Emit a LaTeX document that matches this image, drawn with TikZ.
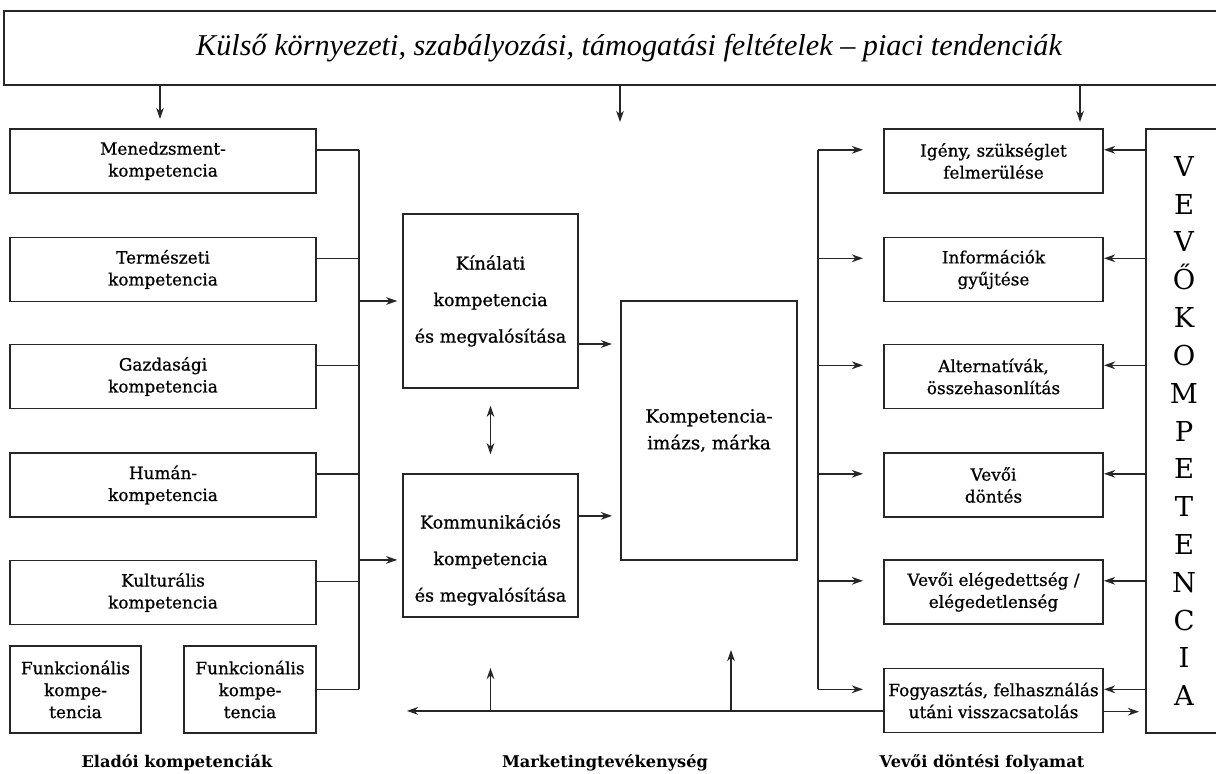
\documentclass[tikz,border=0pt]{standalone}
\usepackage{fontspec}
\setmainfont{DejaVu Serif}
\newfontfamily\boxfont{DejaVu Serif}[FakeBold=0.8]
\newfontfamily\titlefont{Liberation Serif}
\usetikzlibrary{arrows.meta}

\tikzset{
  box/.style={draw=black!85, line width=1.3pt, align=center, inner sep=2pt,
    font=\fontsize{12}{15.6}\selectfont\boxfont},
  lbl/.style={font=\fontsize{11.5}{13}\selectfont\bfseries},
  conn/.style={draw=black!85, line width=1.1pt}
}

\begin{document}
\begin{tikzpicture}[x=0.025cm, y=-0.025cm, >={Stealth[length=8pt,width=5.5pt]}]

        \useasboundingbox (0,0) rectangle (1216,774);
        \clip (0,0) rectangle (1216,774);

        \node[box, minimum width=31.25cm, minimum height=1.85cm,
          font=\fontsize{21.5}{24}\selectfont\titlefont\itshape] (top) at (629,48)
          {Külső környezeti, szabályozási, támogatási feltételek – piaci tendenciák};

        \begin{scope}[every node/.style={box, minimum width=7.65cm, minimum height=1.6cm}]
          \node (men) at (163,161)   {Menedzsment-\\kompetencia};
          \node (ter) at (163,269.5) {Természeti\\kompetencia};
          \node (gaz) at (163,376.5) {Gazdasági\\kompetencia};
          \node (hum) at (163,485)   {Humán-\\kompetencia};
          \node (kul) at (163,592.5) {Kulturális\\kompetencia};
        \end{scope}

        \begin{scope}[every node/.style={box, minimum height=2.175cm}]
          \node[minimum width=3.275cm] (fun1) at (75.5,689.5) {Funkcionális\\kompe-\\tencia};
          \node[minimum width=3.3cm]   (fun2) at (250,689.5)  {Funkcionális\\kompe-\\tencia};
        \end{scope}

        \begin{scope}[every node/.style={box, minimum width=4.375cm, font=\fontsize{12.5}{26}\selectfont\boxfont}]
          \node[minimum height=4.35cm]  (kin) at (490.5,301)   {Kínálati\\kompetencia\\és megvalósítása};
          \node[minimum height=3.575cm] (kom) at (490.5,545.5) {};
          \node[draw=none] (komt) at (490.5,560) {Kommunikációs\\kompetencia\\és megvalósítása};
        \end{scope}
        \node[box, minimum width=4.4cm, minimum height=6.475cm,
          font=\fontsize{13}{19}\selectfont\boxfont] (komp) at (709,430.5) {Kompetencia-\\imázs, márka};

        \begin{scope}[every node/.style={box, minimum width=5.475cm, minimum height=1.6cm}]
          \node (ig)  at (993.5,161)   {Igény, szükséglet\\felmerülése};
          \node (inf) at (993.5,269.5) {Információk\\gyűjtése};
          \node (alt) at (993.5,376.5) {Alternatívák,\\összehasonlítás};
          \node (don) at (993.5,485)   {Vevői\\döntés};
          \node (ele) at (993.5,592)   {Vevői elégedettség /\\elégedetlenség};
          \node (fog) at (993.5,700.5) {Fogyasztás, felhasználás\\utáni visszacsatolás};
        \end{scope}

        \node[box, minimum width=1.9cm, minimum height=15.1cm,
          font=\fontsize{19.5}{26.9}\selectfont] (vevo) at (1184,431)
          {V\\E\\V\\Ő\\K\\O\\M\\P\\E\\T\\E\\N\\C\\I\\A};

        \node[lbl] (lab1) at (177,763) {Eladói kompetenciák};
        \node[lbl] (lab2) at (605,763) {Marketingtevékenység};
        \node[lbl] (lab3) at (982,763) {Vevői döntési folyamat};

        \coordinate (t1) at (160,119);
        \coordinate (t2) at (620,122);
        \coordinate (t3) at (1080,122);
        \foreach \t in {t1,t2,t3}
          \draw[conn,->] (\t |- top.south) -- (\t);

        \coordinate (lb1) at (359,150);
        \coordinate (lb2) at (359,689);
        \draw[conn] (lb1) -- (lb2);
        \foreach \n in {men,ter,gaz,hum,kul}{
          \coordinate (\n p) at ([yshift=0.28cm]\n.east);
          \draw[conn] (\n p) -- (\n p -| lb1);
        }
        \draw[conn] (fun2.east) -- (fun2.east -| lb1);
        \draw[conn,->,shorten >=0.12cm] (kin.west -| lb1) -- (kin.west);
        \coordinate (komi) at ([yshift=-0.36cm]kom.west);
        \draw[conn,->,shorten >=0.12cm] (komi -| lb1) -- (komi);

        \coordinate (kino) at ([yshift=-1.075cm]kin.east);
        \coordinate (komo) at ([yshift=0.74cm]kom.east);
        \draw[conn,->,shorten >=0.2cm] (kino) -- (kino -| komp.west);
        \draw[conn,->,shorten >=0.2cm] (komo) -- (komo -| komp.west);
        \draw[conn,<->,shorten <=0.42cm,shorten >=0.47cm] (kin.south) -- (kom.north);

        \coordinate (rb1) at (818,150);
        \coordinate (rb2) at (818,689);
        \draw[conn] (rb1) -- (rb2);
        \foreach \n in {ig,inf,alt,don,ele,fog}{
          \coordinate (\n w) at ([yshift=0.28cm]\n.west);
          \coordinate (\n e) at ([yshift=0.28cm]\n.east);
          \draw[conn,->,shorten >=0.5cm] (\n w -| rb1) -- (\n w);
          \draw[conn,->] (\n e -| vevo.west) -- (\n e);
        }

        \coordinate (fo) at ([yshift=-0.28cm]fog.east);
        \draw[conn,->,shorten >=0.15cm] (fo) -- (fo -| vevo.west);
        \coordinate (fb) at ([yshift=-0.26cm]fog.west);
        \draw[conn,->,shorten >=0.12cm] (fb) -- (fb -| kin.west);
        \draw[conn,->] (fb -| kin.south) -- ++(0,-43);
        \coordinate (fbm) at (731,711);
        \draw[conn,->] (fbm) -- ++(0,-61);

      \end{tikzpicture}
\end{document}
